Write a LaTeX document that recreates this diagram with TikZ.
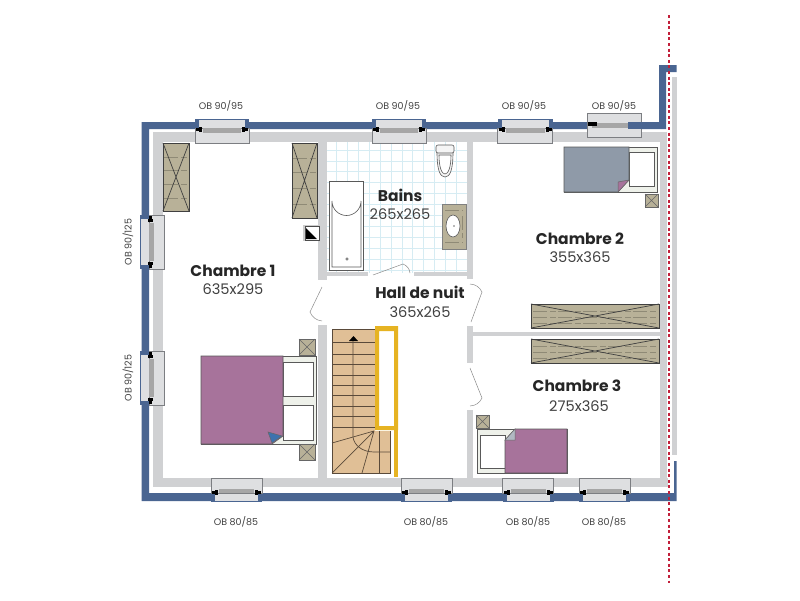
\documentclass[tikz,border=0pt]{standalone}
\usepackage{fontspec}
\setmainfont{Poppins}
\definecolor{navywall}{HTML}{4A6591}
\definecolor{greywall}{HTML}{D0D1D3}
\definecolor{winlight}{HTML}{DEDFE1}
\definecolor{winedge}{HTML}{7C7E82}
\definecolor{wood}{HTML}{B8B198}
\definecolor{woodline}{HTML}{8F8A76}
\definecolor{purplecover}{HTML}{A7739B}
\definecolor{greycover}{HTML}{8F9AA8}
\definecolor{stairfill}{HTML}{E0BF96}
\definecolor{stairline}{HTML}{5A4A3A}
\definecolor{railyellow}{HTML}{E6B322}
\definecolor{tile}{HTML}{D6ECF3}
\definecolor{dashred}{HTML}{C21F3A}
\definecolor{framefill}{HTML}{EEF1EA}
\definecolor{foldblue}{HTML}{3D72AE}
\tikzset{
  x=1pt,y=-1pt,
  navy/.style={fill=navywall,draw=none},
  wallgrey/.style={fill=greywall,draw=none},
  roomname/.style={font=\fontsize{15.5}{17}\selectfont\bfseries,text=black!85,inner sep=0pt},
  roomsize/.style={font=\fontsize{14.6}{16}\selectfont,text=black!75,inner sep=0pt},
  oblabel/.style={font=\fontsize{9.5}{11}\selectfont,text=black!75,inner sep=0pt},
  winbox/.style={fill=winlight,draw=winedge,line width=0.7pt},
  plank/.style={fill=wood,draw=black!75,line width=0.7pt},
  grain/.style={draw=woodline,line width=0.6pt,dash pattern=on 14pt off 3pt on 6pt off 2pt},
  fixture/.style={draw=black!65,line width=0.6pt},
  tread/.style={draw=stairline,line width=0.7pt},
  doorline/.style={draw=black!45,line width=0.5pt},
  smallbox/.style={fill=wood,draw=black!60,line width=0.6pt},
}
% window: #1 centre x, #2 centre y, #3 half width, #4 axis options
\newcommand{\wopen}[4]{%
  \begin{scope}[shift={(#1,#2)},#4]
    \fill[navywall] (-#3,-9) rectangle (#3,1);
    \fill[winlight] (-#3+4,-8) rectangle (#3-4,1);
    \draw[winbox] (-#3,0) rectangle (#3,15);
    \fill[black!35] (-#3+8,0) rectangle (#3-8,4.5);
    \fill[black] (-#3+1,-0.5) rectangle (-#3+7,2.5);
    \fill[black] (#3-7,-0.5) rectangle (#3-1,2.5);
    \fill[black] (-#3+4,-1.5) rectangle (-#3+7,3.5);
    \fill[black] (#3-7,-1.5) rectangle (#3-4,3.5);
  \end{scope}}
\newcommand{\xplank}[4]{%
  \draw[plank] (#1,#2) rectangle (#3,#4);}
\newcommand{\smallx}[4]{%
  \draw[smallbox] (#1,#2) rectangle (#3,#4);
  \draw[black!60,line width=0.6pt] (#1,#2) -- (#3,#4) (#1,#4) -- (#3,#2);}
\begin{document}
\begin{tikzpicture}
\useasboundingbox (0,0) rectangle (800,600);
\fill[white] (0,0) rectangle (800,600);
% tiles
\begin{scope}
  \clip (327,142) rectangle (467,272);
  \foreach \k in {0,...,11} {\draw[tile,line width=0.7pt] (326,150+\k*10.9) -- (468,150+\k*10.9);}
  \foreach \k in {0,...,12} {\draw[tile,line width=0.7pt] (336.5+\k*10.9,141) -- (336.5+\k*10.9,273);}
\end{scope}
% navy outer wall
\fill[navy] (141.5,122) -- (659,122) -- (659,65) -- (676.5,65) -- (676.5,72) -- (666,72) -- (666,129) -- (149,129) -- (149,493) -- (674,493) -- (674,461) -- (676.5,461) -- (676.5,501) -- (141.5,501) -- cycle;
% grey walls
\fill[wallgrey] (153,132) rectangle (667,142);
\fill[wallgrey] (153,132) rectangle (163,487);
\fill[wallgrey] (153,478) rectangle (668,487);
\fill[wallgrey] (660,132) rectangle (667,487);
\fill[wallgrey] (671.5,77) rectangle (677,455);
\fill[wallgrey] (318,142) rectangle (327,280);
\fill[wallgrey] (318,325) rectangle (327,478);
\fill[wallgrey] (467,142) rectangle (473,279);
\fill[wallgrey] (467,326) rectangle (473,363);
\fill[wallgrey] (467,410) rectangle (473,478);
\fill[wallgrey] (473,332) rectangle (660,336);
\fill[wallgrey] (327,272) rectangle (368,276);
\fill[wallgrey] (414,272) rectangle (467,276);
% doors
\draw[doorline] (373,275) -- (403,264) to[bend left=30] (410,273);
\draw[doorline] (322,287) -- (310,312) to[bend right=30] (322,321);
\draw[doorline] (471,322) -- (482,292) to[bend right=30] (470,284);
\draw[doorline] (470,368) -- (482,398) to[bend left=30] (470,406);
% windows
\wopen{222}{128}{27}{x={(1pt,0pt)},y={(0pt,-1pt)}}
\wopen{399}{128}{27}{x={(1pt,0pt)},y={(0pt,-1pt)}}
\wopen{525}{128}{27.5}{x={(1pt,0pt)},y={(0pt,-1pt)}}
\wopen{236.5}{493}{25.5}{x={(1pt,0pt)},y={(0pt,1pt)}}
\wopen{426.5}{493}{25.5}{x={(1pt,0pt)},y={(0pt,1pt)}}
\wopen{528}{493}{25.5}{x={(1pt,0pt)},y={(0pt,1pt)}}
\wopen{604.5}{493}{25.5}{x={(1pt,0pt)},y={(0pt,1pt)}}
\wopen{149}{242}{27}{x={(0pt,-1pt)},y={(1pt,0pt)}}
\wopen{149}{378}{27}{x={(0pt,-1pt)},y={(1pt,0pt)}}
% closed-type window top right
\draw[winbox] (587,113) rectangle (641,137);
\fill[black!35] (592,123) rectangle (628,127.5);
\fill[black] (587.5,122) rectangle (597,126);
\fill[navywall] (628,122) rectangle (659,129);
% wardrobes
\xplank{163}{143}{189}{211}
\draw[grain] (164,157) -- (188,157) (164,170) -- (188,170) (164,184) -- (188,184) (164,198) -- (188,198);
\draw[black!75,line width=0.7pt] (163,143) -- (189,211) (163,211) -- (189,143);
\xplank{292}{143}{317}{218}
\draw[grain] (293,158) -- (316,158) (293,172) -- (316,172) (293,188) -- (316,188) (293,204) -- (316,204);
\draw[black!75,line width=0.7pt] (292,143) -- (317,218) (292,218) -- (317,143);
\xplank{531}{304}{659}{328}
\draw[grain] (533,311) -- (657,311) (533,317) -- (657,317) (533,323) -- (657,323);
\draw[black!75,line width=0.7pt] (531,304) -- (659,328) (531,328) -- (659,304);
\xplank{531}{339}{659}{363}
\draw[grain] (533,346) -- (657,346) (533,352) -- (657,352) (533,358) -- (657,358);
\draw[black!75,line width=0.7pt] (531,339) -- (659,363) (531,363) -- (659,339);
% small square (Chambre 1)
\fill[black!20] (303,225) rectangle (320,241);
\draw[black!70,fill=white,line width=0.8pt] (305,226) rectangle (319,240);
\fill[black] (306,228) -- (317,239) -- (306,239) -- cycle;
% bath
\draw[fixture,fill=white] (329,181) rectangle (363,270);
\draw[fixture,fill=white] (332,267) -- (332,201) arc[start angle=180,end angle=0,radius=14.5] -- (361,267) -- cycle;
\draw[fixture] (347,259) circle[radius=1.3];
% toilet
\draw[fixture,fill=black!4] (437,152) .. controls (437,170) and (440,177) .. (445,177) .. controls (450,177) and (453,170) .. (453,152) -- cycle;
\draw[fixture,fill=white] (439,155) .. controls (439,168) and (442,174) .. (445,174) .. controls (448,174) and (451,168) .. (451,155) -- cycle;
\draw[fixture,fill=black!4,rounded corners=2pt] (436,145) rectangle (454,153);
% sink
\draw[black!50,fill=wood,line width=0.6pt] (442,204) rectangle (466,249);
\draw[grain] (445,210) -- (463,210) (445,242) -- (463,242) (462,216) -- (462,238);
\draw[fixture,fill=white] (453,226) ellipse[x radius=7,y radius=11];
\fill[black!55] (454,226) circle[radius=0.9];
% bed 1
\draw[fixture,fill=framefill] (201,356) rectangle (316,444);
\draw[fixture,fill=white] (283,362) rectangle (313,396);
\draw[fixture,fill=white] (283,405) rectangle (313,440);
\draw[black!65,fill=purplecover,line width=0.6pt] (201,356) -- (283,356) -- (283,436) -- (272,444) -- (201,444) -- cycle;
\filldraw[fill=foldblue,draw=black!60,line width=0.5pt] (268,432) -- (282,436) -- (272,443) -- cycle;
\smallx{299}{339}{315}{355}
\smallx{299}{444}{315}{460}
% bed 2
\draw[fixture,fill=framefill] (564,147) rectangle (657,192);
\draw[fixture,fill=white] (629,152) rectangle (654,186);
\draw[black!65,fill=greycover,line width=0.6pt] (564,147) -- (629,147) -- (629,180) -- (618,192) -- (564,192) -- cycle;
\filldraw[fill=purplecover,draw=black!60,line width=0.5pt] (618,182) -- (629,180) -- (618,192) -- cycle;
\smallx{645}{194}{658}{207}
% bed 3
\draw[fixture,fill=framefill] (477,429) rectangle (567,473);
\draw[fixture,fill=white] (480,435) rectangle (505,468);
\draw[black!65,fill=purplecover,line width=0.6pt] (515,429) -- (567,429) -- (567,473) -- (505,473) -- (505,440) -- cycle;
\filldraw[fill=greycover!70,draw=black!60,line width=0.5pt] (505,440) -- (515,429) -- (515,440) -- cycle;
\smallx{476}{415}{489}{428}
% stairs
\fill[stairfill] (332,329) -- (375,329) -- (375,431) -- (390,431) -- (390,473) -- (332,473) -- cycle;
\draw[tread] (332,329) -- (375,329) (332,329) -- (332,473) -- (390,473) -- (390,431);
\foreach \t in {342,354,364,375,385,395,406,416,427} {\draw[tread] (332,\t) -- (375,\t);}
\draw[tread] (374,431) -- (332,443) (374,431) -- (332,473) (374,431) -- (362,473);
\draw[tread] (379,431) -- (379,473);
\draw[tread] (353,338) -- (353,437) .. controls (354,445) and (362,452) .. (374,452) -- (390,452);
\fill[black] (349,341) -- (353.5,336) -- (358,341) -- cycle;
% yellow railing
\fill[railyellow,even odd rule] (375,326) rectangle (398,430) (379,331) rectangle (394,426);
\fill[railyellow] (394,430) rectangle (398,477);
% red axis
\draw[dashred,line width=1.1pt,dash pattern=on 3pt off 2.6pt] (669,15) -- (669,583);
% texts
\node[roomname] (c1) at (233,271) {Chambre 1};
\node[roomsize] (c1s) at (233,289) {635x295};
\node[roomname] (ba) at (400,195) {Bains};
\node[roomsize] (bas) at (400,214) {265x265};
\node[roomname] (c2) at (580,239) {Chambre 2};
\node[roomsize] (c2s) at (580,257) {355x365};
\node[roomname] (ha) at (420,292) {Hall de nuit};
\node[roomsize] (has) at (420,312) {365x265};
\node[roomname] (c3) at (577,386) {Chambre 3};
\node[roomsize] (c3s) at (579,406) {275x365};
\node[oblabel] (o1) at (221,106) {OB 90/95};
\node[oblabel] (o2) at (398,106) {OB 90/95};
\node[oblabel] (o3) at (524,106) {OB 90/95};
\node[oblabel] (o4) at (614,106) {OB 90/95};
\node[oblabel] (o5) at (236,522) {OB 80/85};
\node[oblabel] (o6) at (426,522) {OB 80/85};
\node[oblabel] (o7) at (528,522) {OB 80/85};
\node[oblabel] (o8) at (604,522) {OB 80/85};
\node[oblabel,rotate=90] (o9) at (128,242) {OB 90/125};
\node[oblabel,rotate=90] (o10) at (128,378) {OB 90/125};
\end{tikzpicture}
\end{document}
